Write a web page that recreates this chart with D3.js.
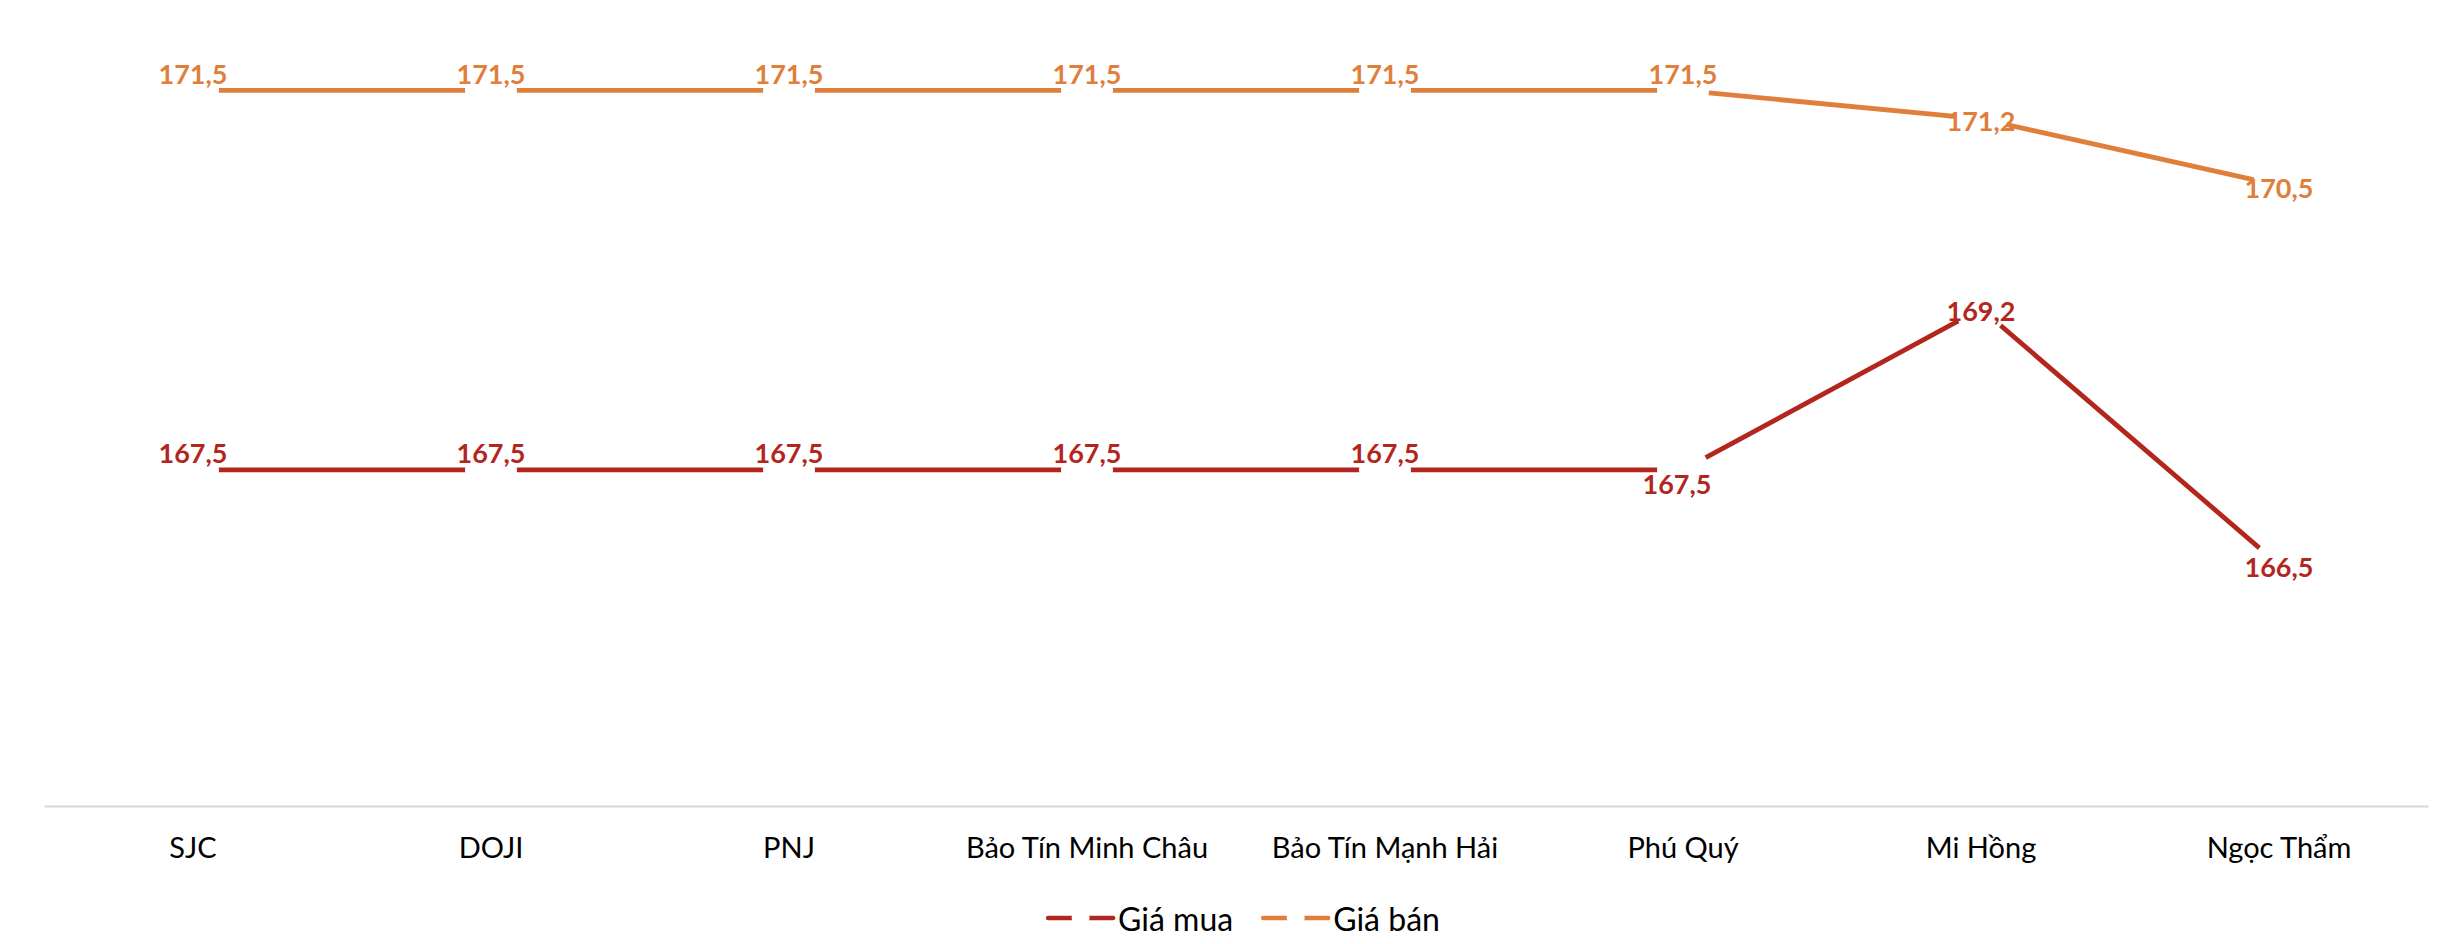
<!DOCTYPE html>
<html>
<head>
<meta charset="utf-8">
<script src="https://cdn.jsdelivr.net/npm/d3@7"></script>
<style>
  html, body { margin: 0; padding: 0; background: #ffffff; }
  svg { display: block; }
  text { font-family: Lato, "Liberation Sans", sans-serif; }
</style>
</head>
<body>
<svg id="chart" width="2448" height="944"></svg>
<script>
// --- DATA ---
const categories = ["SJC", "DOJI", "PNJ", "Bảo Tín Minh Châu", "Bảo Tín Mạnh Hải", "Phú Quý", "Mi Hồng", "Ngọc Thẩm"];
const buyPrices  = [167.5, 167.5, 167.5, 167.5, 167.5, 167.5, 169.2, 166.5];
const sellPrices = [171.5, 171.5, 171.5, 171.5, 171.5, 171.5, 171.2, 170.5];
const seriesNames = ["Giá mua", "Giá bán"];

// label placement per point (layout only)
const buyLabelPos  = ["above", "above", "above", "above", "above", "below", "center", "center"];
const sellLabelPos = ["above", "above", "above", "above", "above", "above", "center", "center"];

// --- CONFIG ---
const W = 2448, H = 944;
const plot = { left: 44, right: 2428, top: 43, bottom: 806 };
const colors = { buy: "#b3261e", sell: "#e07e3c" };
const lineWidth = 4.8;
const markerR = 26;

const svg = d3.select("#chart");

const x = d3.scaleBand().domain(categories).range([plot.left, plot.right]).padding(0);
const y = d3.scaleLinear().domain([164, 172]).range([plot.bottom - 4, plot.top]);

const fmt = v => d3.format(".1f")(v).replace(".", ",");

// category axis: baseline only, no ticks
const xAxis = svg.append("g")
    .attr("transform", `translate(0,${plot.bottom})`)
    .call(d3.axisBottom(x).tickSize(0).tickPadding(31));
xAxis.select(".domain").attr("stroke", "#d9d9d9").attr("stroke-width", 2.2);
xAxis.selectAll(".tick text")
    .attr("fill", "#000")
    .style("font-size", "29px")
    .style("font-family", "Lato, 'Liberation Sans', sans-serif");

const series = [
    { key: "buy", name: seriesNames[0], values: buyPrices, labelPos: buyLabelPos, color: colors.buy },
    { key: "sell", name: seriesNames[1], values: sellPrices, labelPos: sellLabelPos, color: colors.sell }
];

const line = d3.line()
    .x((d, i) => x(categories[i]) + x.bandwidth() / 2)
    .y(d => y(d));

// lines with white markers (the gap around each point)
series.forEach(s => {
    const g = svg.append("g").attr("class", "series-" + s.key);
    g.append("path")
        .datum(s.values)
        .attr("d", line)
        .attr("fill", "none")
        .attr("stroke", s.color)
        .attr("stroke-width", lineWidth);
    g.selectAll("circle")
        .data(s.values)
        .join("circle")
        .attr("cx", (d, i) => x(categories[i]) + x.bandwidth() / 2)
        .attr("cy", d => y(d))
        .attr("r", markerR)
        .attr("fill", "#fff");
});

// data labels on top
series.forEach(s => {
    svg.append("g").selectAll("text")
        .data(s.values)
        .join("text")
        .attr("x", (d, i) => x(categories[i]) + x.bandwidth() / 2 + (s.labelPos[i] === "below" ? -6 : 0))
        .attr("y", (d, i) => {
            const p = s.labelPos[i];
            if (p === "above") return y(d) - 17;
            if (p === "below") return y(d) + 14;
            return y(d) + 2;
        })
        .attr("text-anchor", "middle")
        .attr("dominant-baseline", "central")
        .attr("fill", s.color)
        .style("font-size", "27px")
        .style("font-weight", "700")
        .text(d => fmt(d));
});

// legend, centred below the axis labels
const legend = svg.append("g").attr("class", "legend");
const legendY = 918;
const swatchW = 65, swatchGap = 5, itemGap = 30;
let cursor = 0;
series.forEach(s => {
    const item = legend.append("g").attr("transform", `translate(${cursor},0)`);
    item.append("line")
        .attr("x1", 0).attr("x2", swatchW)
        .attr("y1", 0).attr("y2", 0)
        .attr("stroke", s.color)
        .attr("stroke-width", 4.5)
        .attr("stroke-linecap", "round");
    item.append("circle")
        .attr("cx", swatchW / 2).attr("cy", 0).attr("r", 9)
        .attr("fill", "#fff");
    const t = item.append("text")
        .attr("x", swatchW + swatchGap)
        .attr("y", 0)
        .attr("dominant-baseline", "central")
        .attr("fill", "#000")
        .style("font-size", "32px")
        .text(s.name);
    cursor += swatchW + swatchGap + t.node().getComputedTextLength() + itemGap;
});
const legendW = cursor - itemGap;
legend.attr("transform", `translate(${(1048 + 1440) / 2 - legendW / 2},${legendY})`);
</script>
</body>
</html>
